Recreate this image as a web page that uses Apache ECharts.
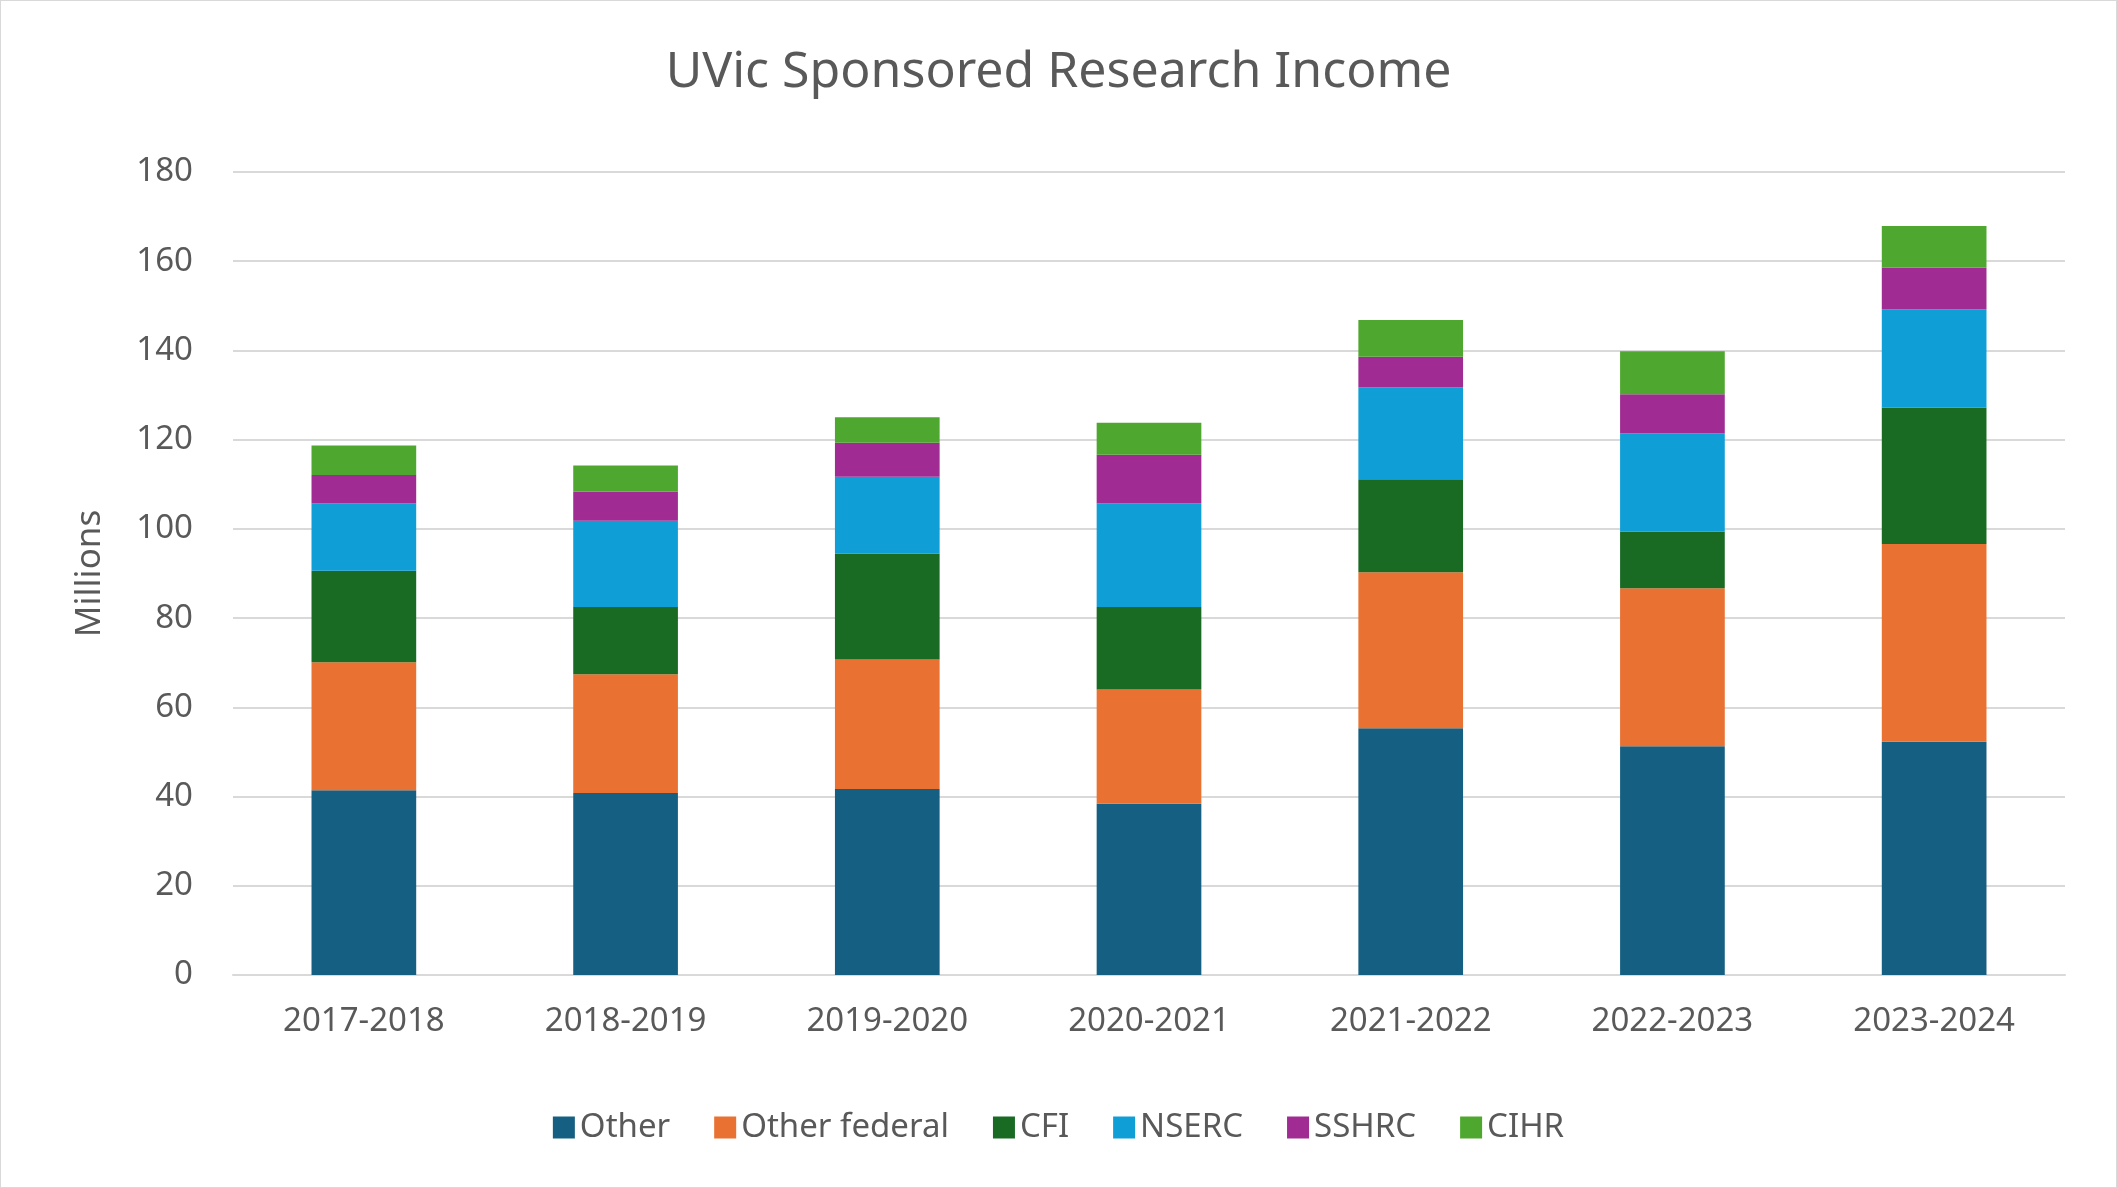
<!DOCTYPE html>
<html><head><meta charset="utf-8">
<script src="https://cdn.jsdelivr.net/npm/echarts@6/dist/echarts.min.js"></script>
<style>html,body{margin:0;padding:0;background:#fff}#c{width:2115px;height:1186px;border:1px solid #d9d9d9}</style>
</head><body><div id="c"></div>
<script>
const categories=['2017-2018','2018-2019','2019-2020','2020-2021','2021-2022','2022-2023','2023-2024'];
const other=[41.4,40.8,41.7,38.4,55.3,51.3,52.3];
const otherFederal=[28.7,26.6,29.0,25.6,35.0,35.4,44.3];
const cfi=[20.5,15.1,23.8,18.5,20.8,12.7,30.6];
const nserc=[15.1,19.3,17.2,23.2,20.6,22.0,22.0];
const sshrc=[6.4,6.6,7.6,10.9,6.9,8.8,9.4];
const cihr=[6.6,5.8,5.7,7.2,8.2,9.6,9.3];
const names=['Other','Other federal','CFI','NSERC','SSHRC','CIHR'];
const colors=['#156082','#E97132','#196B24','#0F9ED5','#A02B93','#4EA72E'];
const data=[other,otherFederal,cfi,nserc,sshrc,cihr];
const font='Noto Sans';
const chart=echarts.init(document.getElementById('c'));
chart.setOption({
 animation:false,
 textStyle:{fontFamily:font},
 title:{text:'UVic Sponsored Research Income',left:'center',top:42,textStyle:{fontFamily:font,fontSize:50,fontWeight:'normal',color:'#595959'}},
 legend:{bottom:38,left:'center',itemWidth:22,itemHeight:22,itemGap:44,icon:'rect',textStyle:{fontFamily:font,fontSize:33,color:'#595959'}},
 grid:{left:232,right:51,top:171,bottom:212},
 xAxis:{type:'category',data:categories,axisTick:{show:false},axisLine:{lineStyle:{color:'#d9d9d9',width:2}},axisLabel:{fontSize:33,color:'#595959',margin:30}},
 yAxis:{type:'value',min:0,max:180,interval:20,name:'Millions',nameLocation:'middle',nameGap:125,nameTextStyle:{fontSize:35,color:'#595959'},axisLabel:{fontSize:33,color:'#595959',margin:40},splitLine:{lineStyle:{color:'#d9d9d9',width:2}}},
 series:data.map((d,i)=>({name:names[i],type:'bar',stack:'a',data:d,barWidth:'40%',itemStyle:{color:colors[i]}}))
});
</script></body></html>
